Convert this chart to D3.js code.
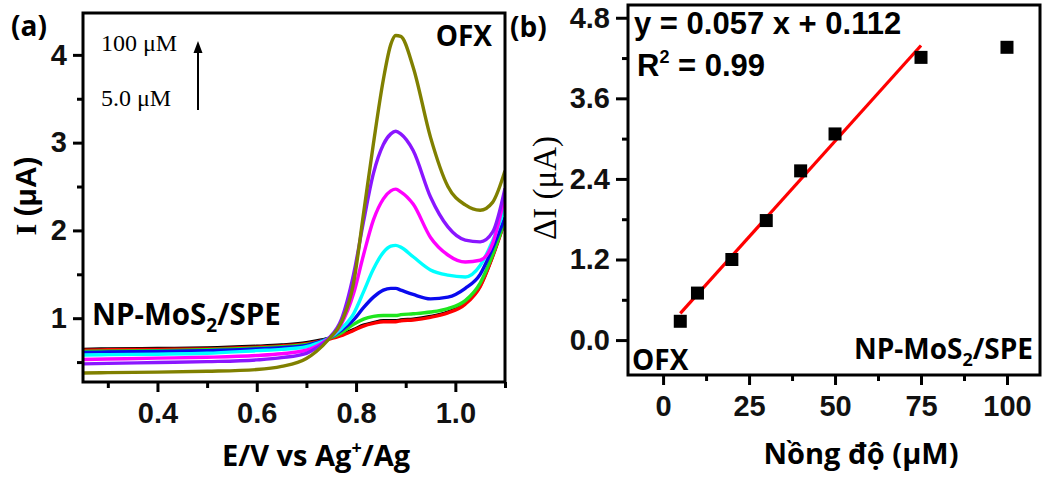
<!DOCTYPE html>
<html><head><meta charset="utf-8">
<script src="https://cdn.jsdelivr.net/npm/d3@7"></script>
<style>
body{margin:0;background:#fff;}
svg{display:block;}
</style></head>
<body>
<svg id="chart" width="1054" height="477"></svg>
<script>
// ---------- Panel (a) data: DPV curves ----------
const potentials = [0.25,0.30,0.40,0.50,0.60,0.65,0.70,0.72,0.745,0.77,0.795,0.815,0.835,0.855,0.87,0.88,0.89,0.915,0.95,0.985,1.02,1.05,1.075,1.10];
const curveBlack   = [0.645,0.65,0.655,0.66,0.68,0.695,0.72,0.74,0.77,0.81,0.87,0.92,0.95,0.97,0.97,0.97,0.98,0.99,1.02,1.07,1.17,1.37,1.71,2.12];
const curveRed     = [0.635,0.64,0.645,0.65,0.67,0.685,0.71,0.73,0.76,0.80,0.86,0.91,0.94,0.96,0.96,0.96,0.97,0.98,1.01,1.06,1.16,1.36,1.70,2.11];
const curveGreen   = [0.62,0.625,0.63,0.64,0.66,0.675,0.70,0.72,0.77,0.83,0.93,0.99,1.02,1.03,1.03,1.03,1.04,1.05,1.07,1.11,1.20,1.40,1.72,2.12];
const curveBlue    = [0.61,0.615,0.62,0.63,0.65,0.665,0.69,0.72,0.77,0.86,0.98,1.12,1.24,1.32,1.34,1.34,1.32,1.27,1.22,1.24,1.34,1.50,1.80,2.15];
const curveCyan    = [0.58,0.585,0.59,0.60,0.63,0.645,0.675,0.71,0.77,0.88,1.05,1.30,1.56,1.75,1.82,1.83,1.81,1.70,1.55,1.49,1.47,1.60,1.88,2.26];
const curveMagenta = [0.53,0.535,0.545,0.555,0.575,0.595,0.635,0.68,0.77,0.93,1.28,1.72,2.12,2.36,2.45,2.47,2.44,2.30,1.92,1.72,1.64,1.66,1.85,2.40];
const curveViolet  = [0.48,0.485,0.495,0.505,0.525,0.55,0.60,0.66,0.77,0.98,1.50,2.10,2.65,2.98,3.10,3.13,3.10,2.91,2.38,2.04,1.89,1.87,1.98,2.48];
const curveOlive   = [0.375,0.38,0.385,0.395,0.415,0.45,0.54,0.62,0.76,0.95,1.40,2.19,2.99,3.72,4.12,4.22,4.21,3.86,3.06,2.50,2.29,2.23,2.32,2.68];
const curveColors  = ["#000000","#ff0000","#1ee61e","#0a0aee","#00ffff","#ff00ff","#8a16ff","#808000"];
const xTicksA = [0.4,0.6,0.8,1.0];
const xMinorA = [0.3,0.5,0.7,0.9,1.1];
const yTicksA = [1,2,3,4];
const yMinorA = [0.5,1.5,2.5,3.5];

// ---------- Panel (b) data: calibration ----------
const concentrations = [5,10,20,30,40,50,75,100];
const deltaI = [0.28,0.70,1.20,1.78,2.52,3.07,4.21,4.36];
const fitSlope = 0.057, fitIntercept = 0.112;
const fitRange = [5,75];
const xTicksB = [0,25,50,75,100];
const xMinorB = [12.5,37.5,62.5,87.5];
const yTicksB = [0,1.2,2.4,3.6,4.8];
const yMinorB = [0.6,1.8,3.0,4.2];

const svg = d3.select("#chart");
const SANS = "'Liberation Sans', Arial, sans-serif";
const OPEN = "'Open Sans', sans-serif";
const SERIF = "'Liberation Serif', 'Times New Roman', serif";

function drawFrame(g, x0,y0,x1,y1){
  g.append("rect").attr("x",x0).attr("y",y0).attr("width",x1-x0).attr("height",y1-y0)
   .attr("fill","none").attr("stroke","#000").attr("stroke-width",3);
}

// ================= Panel (a) =================
{
  const L=83,R=505,T=13,B=382;
  const x = d3.scaleLinear().domain([0.25,1.10]).range([L,R]);
  const y = d3.scaleLinear().domain([0.273,4.477]).range([B,T]);
  const g = svg.append("g");
  const series = [curveBlack,curveRed,curveGreen,curveBlue,curveCyan,curveMagenta,curveViolet,curveOlive];
  const line = d3.line().x((d,i)=>x(potentials[i])).y(d=>y(d)).curve(d3.curveMonotoneX);
  svg.append("clipPath").attr("id","clipA").append("rect").attr("x",L).attr("y",T).attr("width",R-L).attr("height",B-T);
  const cg = g.append("g").attr("clip-path","url(#clipA)");
  series.forEach((s,k)=>{
    cg.append("path").attr("d",line(s)).attr("fill","none").attr("stroke",curveColors[k]).attr("stroke-width",3.4).attr("stroke-linejoin","round");
  });
  const ax = g.append("g").attr("transform",`translate(0,${B})`)
    .call(d3.axisBottom(x).tickValues(xTicksA).tickFormat(d3.format(".1f")).tickSize(10).tickPadding(10));
  const axm = g.append("g").attr("transform",`translate(0,${B})`)
    .call(d3.axisBottom(x).tickValues(xMinorA).tickFormat("").tickSize(6));
  const ay = g.append("g").attr("transform",`translate(${L},0)`)
    .call(d3.axisLeft(y).tickValues(yTicksA).tickFormat(d3.format("d")).tickSize(10).tickPadding(6));
  const aym = g.append("g").attr("transform",`translate(${L},0)`)
    .call(d3.axisLeft(y).tickValues(yMinorA).tickFormat("").tickSize(6));
  [ax,axm,ay,aym].forEach(a=>{
    a.select(".domain").remove();
    a.selectAll("line").attr("stroke","#000").attr("stroke-width",3);
    a.selectAll("text").attr("font-family",SANS).attr("font-weight","bold").attr("font-size",29).attr("fill","#111");
  });
  drawFrame(g,L,T,R,B);

  g.append("text").attr("x",11).attr("y",36).attr("font-family",OPEN).attr("font-weight",700).attr("font-size",28).text("(a)");
  g.append("text").attr("x",492).attr("y",46).attr("text-anchor","end").attr("font-family",OPEN).attr("font-weight",700).attr("font-size",28).text("OFX");
  const np = g.append("text").attr("x",92).attr("y",325).attr("font-family",OPEN).attr("font-weight",700).attr("font-size",29.5);
  np.append("tspan").text("NP-MoS");
  np.append("tspan").attr("font-size",19).attr("dy",7).text("2");
  np.append("tspan").attr("dy",-7).text("/SPE");
  g.append("text").attr("x",101).attr("y",51).attr("font-family",SERIF).attr("font-size",24).text("100 μM");
  g.append("text").attr("x",101).attr("y",106).attr("font-family",SERIF).attr("font-size",24).text("5.0 μM");
  g.append("line").attr("x1",198).attr("x2",198).attr("y1",110).attr("y2",50).attr("stroke","#000").attr("stroke-width",2);
  g.append("path").attr("d","M198,41 L193.5,53 L202.5,53 Z").attr("fill","#000");
  const xt = g.append("text").attr("x",316).attr("y",466).attr("text-anchor","middle").attr("font-family",OPEN).attr("font-weight",700).attr("font-size",29);
  xt.append("tspan").text("E/V vs Ag");
  xt.append("tspan").attr("font-size",18).attr("dy",-12).text("+");
  xt.append("tspan").attr("dy",12).text("/Ag");
  const yt = g.append("text").attr("transform","translate(36,196) rotate(-90)").attr("text-anchor","middle").attr("font-size",30).attr("font-weight","bold");
  yt.append("tspan").attr("font-family",SERIF).text("I ");
  yt.append("tspan").attr("font-family",SANS).text("(μA)");
}

// ================= Panel (b) =================
{
  const L=628,R=1040,T=5,B=375;
  const x = d3.scaleLinear().domain([-10.2,109.6]).range([L,R]);
  const y = d3.scaleLinear().domain([-0.52,4.99]).range([B,T]);
  const g = svg.append("g");
  const ax = g.append("g").attr("transform",`translate(0,${B})`)
    .call(d3.axisBottom(x).tickValues(xTicksB).tickFormat(d3.format("d")).tickSize(10).tickPadding(10));
  const axm = g.append("g").attr("transform",`translate(0,${B})`)
    .call(d3.axisBottom(x).tickValues(xMinorB).tickFormat("").tickSize(6));
  const ay = g.append("g").attr("transform",`translate(${L},0)`)
    .call(d3.axisLeft(y).tickValues(yTicksB).tickFormat(d3.format(".1f")).tickSize(12).tickPadding(6));
  const aym = g.append("g").attr("transform",`translate(${L},0)`)
    .call(d3.axisLeft(y).tickValues(yMinorB).tickFormat("").tickSize(6));
  [ax,axm,ay,aym].forEach(a=>{
    a.select(".domain").remove();
    a.selectAll("line").attr("stroke","#000").attr("stroke-width",3);
    a.selectAll("text").attr("font-family",SANS).attr("font-weight","bold").attr("font-size",29).attr("fill","#111");
  });
  g.append("line").attr("x1",x(fitRange[0])).attr("y1",y(fitSlope*fitRange[0]+fitIntercept))
    .attr("x2",x(fitRange[1])).attr("y2",y(fitSlope*fitRange[1]+fitIntercept))
    .attr("stroke","#ff0000").attr("stroke-width",3.2);
  const s=13;
  g.selectAll("rect.pt").data(concentrations).enter().append("rect").attr("class","pt")
    .attr("x",(d)=>x(d)-s/2).attr("y",(d,i)=>y(deltaI[i])-s/2).attr("width",s).attr("height",s).attr("fill","#000");
  drawFrame(g,L,T,R,B);

  g.append("text").attr("x",510).attr("y",37).attr("font-family",OPEN).attr("font-weight",700).attr("font-size",28).text("(b)");
  g.append("text").attr("x",634).attr("y",34).attr("font-family",SANS).attr("font-weight","bold").attr("font-size",31).text("y = 0.057 x + 0.112");
  const r2 = g.append("text").attr("x",637).attr("y",76).attr("font-family",SANS).attr("font-weight","bold").attr("font-size",31);
  r2.append("tspan").text("R");
  r2.append("tspan").attr("font-size",18).attr("dy",-13).text("2");
  r2.append("tspan").attr("dy",13).text(" = 0.99");
  g.append("text").attr("x",632).attr("y",370).attr("font-family",OPEN).attr("font-weight",700).attr("font-size",28).text("OFX");
  const np = g.append("text").attr("x",1033).attr("y",359).attr("text-anchor","end").attr("font-family",OPEN).attr("font-weight",700).attr("font-size",28);
  np.append("tspan").text("NP-MoS");
  np.append("tspan").attr("font-size",18).attr("dy",7).text("2");
  np.append("tspan").attr("dy",-7).text("/SPE");
  g.append("text").attr("x",861).attr("y",464).attr("text-anchor","middle").attr("font-family",OPEN).attr("font-weight",700).attr("font-size",29).text("Nồng độ (μM)");
  g.append("text").attr("transform","translate(556,188) rotate(-90)").attr("text-anchor","middle").attr("font-family",SERIF).attr("font-size",33).text("ΔI (μA)");
}
</script>
</body></html>
